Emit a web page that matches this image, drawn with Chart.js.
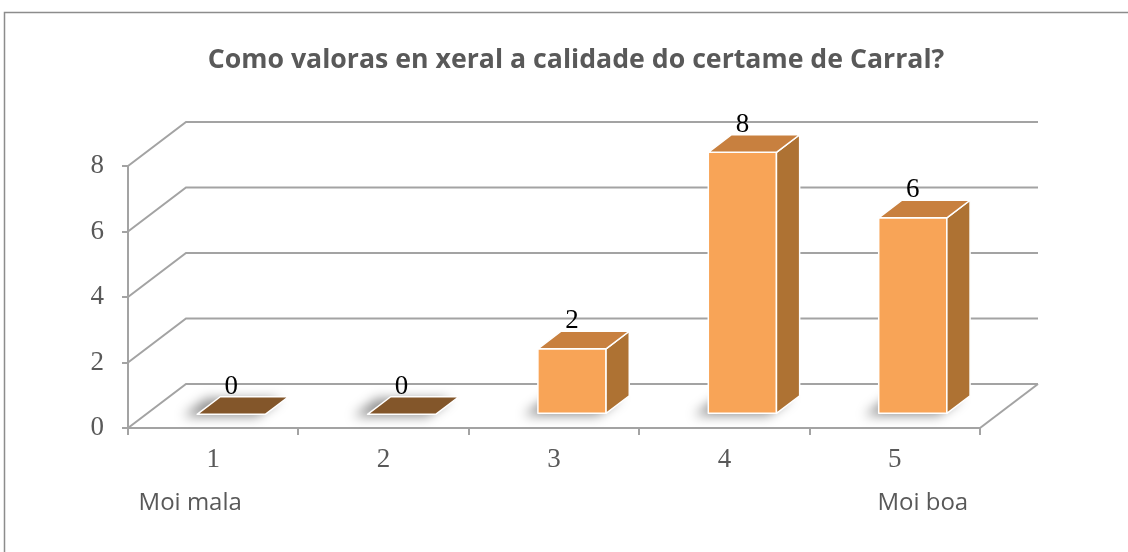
<!DOCTYPE html>
<html>
<head>
<meta charset="utf-8">
<script src="https://cdn.jsdelivr.net/npm/chart.js@4"></script>
<style>
  html, body { margin: 0; padding: 0; background: #fff; }
</style>
</head>
<body>
<canvas id="rating-chart" width="1128" height="552"></canvas>
<script>
let categories = ['1', '2', '3', '4', '5'];
let answers = [0, 0, 2, 8, 6];
let scaleEnds = ['Moi mala', 'Moi boa'];
let chartTitle = 'Como valoras en xeral a calidade do certame de Carral?';

let grey_txt = '#595959';
let grid_grey = '#A3A3A3';
let face_front = '#F8A457';
let face_side = '#AE7233';
let face_top = '#C8803F';
let face_empty = '#83562A';
let serif = '"Liberation Serif", "DejaVu Serif", serif';
let sans = '"Open Sans", Lato, sans-serif';

// depth of the 3d box
let DX = 58, DY = 44;
let barFrom = 0.31, barTo = 0.71;

let depthPlugin = {
  id: 'depth',
  beforeDraw(chart) {
    let ctx = chart.ctx;
    ctx.save();
    ctx.fillStyle = '#fff';
    ctx.fillRect(0, 0, chart.width, chart.height);
    ctx.strokeStyle = '#8C8C8C';
    ctx.lineWidth = 1.5;
    ctx.beginPath();
    ctx.moveTo(4.5, chart.height);
    ctx.lineTo(4.5, 12.5);
    ctx.lineTo(chart.width, 12.5);
    ctx.stroke();
    ctx.restore();
  },
  beforeDatasetsDraw(chart) {
    let ctx = chart.ctx;
    let y = chart.scales.y, area = chart.chartArea;
    ctx.save();
    ctx.strokeStyle = grid_grey;
    ctx.lineWidth = 2;
    y.ticks.forEach(t => {
      let py = y.getPixelForValue(t.value);
      ctx.beginPath();
      ctx.moveTo(area.left, py);
      ctx.lineTo(area.left + DX, py - DY);
      ctx.lineTo(area.right + DX, py - DY);
      ctx.stroke();
    });
    let p0 = y.getPixelForValue(0);
    ctx.beginPath();
    ctx.moveTo(area.right, p0);
    ctx.lineTo(area.right + DX, p0 - DY);
    ctx.stroke();
    ctx.restore();
  },
  afterDatasetsDraw(chart) {
    let ctx = chart.ctx;
    let meta = chart.getDatasetMeta(0);
    let d = (barTo - barFrom) * DX, dy = (barTo - barFrom) * DY;
    ctx.save();
    meta.data.forEach((el, i) => {
      let p = el.getProps(['x', 'y', 'base', 'width'], true);
      let L = p.x - p.width / 2 + barFrom * DX;
      let R = p.x + p.width / 2 + barFrom * DX;
      let T = p.y - barFrom * DY;
      let B = p.base - barFrom * DY;

      // soft floor shadow
      ctx.save();
      ctx.filter = 'blur(6px)';
      ctx.fillStyle = 'rgba(0,0,0,0.45)';
      ctx.beginPath();
      ctx.moveTo(L - 14, B + 2);
      ctx.lineTo(L - 14 + d, B + 2 - dy);
      ctx.lineTo(R - 8 + d, B + 2 - dy);
      ctx.lineTo(R - 8, B + 2);
      ctx.closePath();
      ctx.fill();
      ctx.restore();

      ctx.strokeStyle = '#FFFFFF';
      ctx.lineWidth = 1.5;
      ctx.lineJoin = 'round';
      let empty = answers[i] === 0;
      if (!empty) {
        ctx.fillStyle = face_front;
        ctx.beginPath();
        ctx.rect(L, T, R - L, B - T);
        ctx.fill(); ctx.stroke();
        ctx.fillStyle = face_side;
        ctx.beginPath();
        ctx.moveTo(R, T);
        ctx.lineTo(R + d, T - dy);
        ctx.lineTo(R + d, B - dy);
        ctx.lineTo(R, B);
        ctx.closePath();
        ctx.fill(); ctx.stroke();
      }
      ctx.fillStyle = empty ? face_empty : face_top;
      ctx.beginPath();
      ctx.moveTo(L, T);
      ctx.lineTo(L + d, T - dy);
      ctx.lineTo(R + d, T - dy);
      ctx.lineTo(R, T);
      ctx.closePath();
      ctx.fill(); ctx.stroke();

      // value label
      ctx.fillStyle = '#000';
      ctx.font = '27px ' + serif;
      ctx.textAlign = 'center';
      ctx.textBaseline = 'middle';
      ctx.fillText(String(answers[i]), (L + R) / 2, T - dy - 10);
    });
    ctx.restore();
  },
  afterDraw(chart) {
    let ctx = chart.ctx, x = chart.scales.x;
    ctx.save();
    ctx.fillStyle = grey_txt;
    ctx.textAlign = 'center';
    ctx.textBaseline = 'middle';
    ctx.font = 'bold 26.7px ' + sans;
    ctx.fillText(chartTitle, 576, 60);
    ctx.font = '24px ' + sans;
    ctx.fillText(scaleEnds[0], x.getPixelForValue(0) - 23, 503);
    ctx.fillText(scaleEnds[1], x.getPixelForValue(categories.length - 1) + 28, 503);
    ctx.restore();
  }
};

let ctx = document.getElementById('rating-chart').getContext('2d');
let ratingChart = new Chart(ctx, {
  type: 'bar',
  data: {
    labels: categories,
    datasets: [{
      data: answers,
      backgroundColor: 'rgba(0,0,0,0)',
      borderWidth: 0,
      barPercentage: 0.4,
      categoryPercentage: 1
    }]
  },
  options: {
    responsive: false,
    animation: false,
    layout: {
      padding: { left: 0, top: 166, right: 148, bottom: 64 }
    },
    plugins: {
      legend: { display: false },
      tooltip: { enabled: false },
      title: { display: false }
    },
    scales: {
      x: {
        afterFit: s => { s.height = 60; },
        grid: { offset: true, drawOnChartArea: false, tickLength: 7, color: grid_grey, lineWidth: 2 },
        border: { display: true, color: grid_grey, width: 2 },
        ticks: { color: grey_txt, font: { family: serif, size: 27 }, padding: 9 }
      },
      y: {
        min: 0,
        max: 8,
        afterFit: s => { s.width = 128; },
        grid: { drawOnChartArea: false, tickLength: 6, color: grid_grey, lineWidth: 2 },
        border: { display: true, color: grid_grey, width: 2 },
        ticks: { stepSize: 2, color: grey_txt, font: { family: serif, size: 27 }, padding: 18 }
      }
    }
  },
  plugins: [depthPlugin]
});
</script>
</body>
</html>
